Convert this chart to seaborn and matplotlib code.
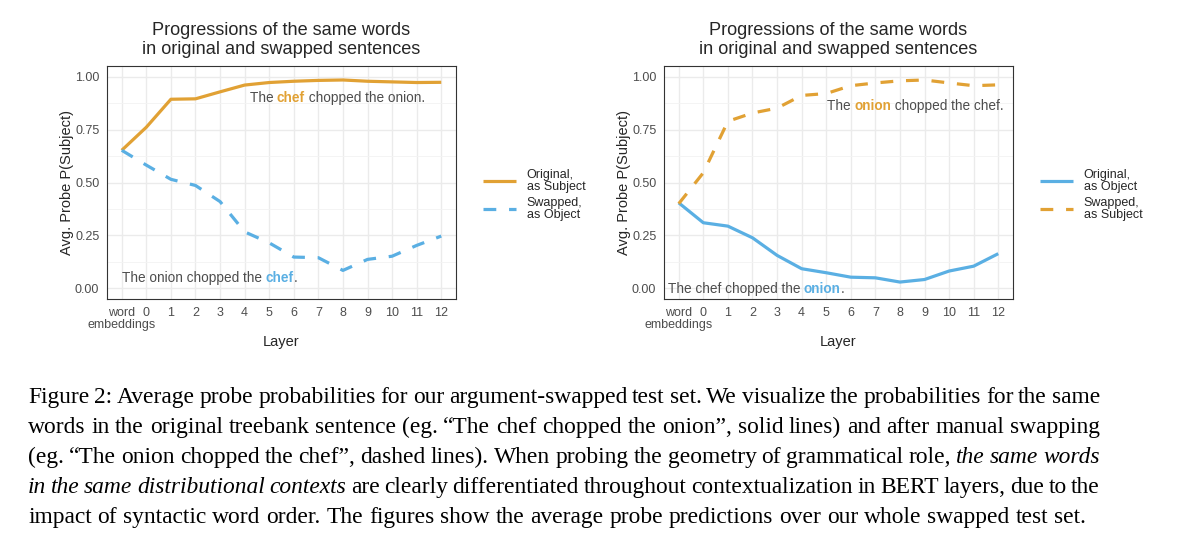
import numpy as np
import pandas as pd
import matplotlib
matplotlib.use("Agg")
import matplotlib.pyplot as plt
from matplotlib.ticker import MultipleLocator
from matplotlib.transforms import offset_copy
import seaborn as sns

# tick labels along the x axis (BERT layers); "word embeddings" is split over two lines
layers = ["word", "0", "1", "2", "3", "4", "5", "6", "7", "8", "9", "10", "11", "12"]
first_label_2nd_line = "embeddings"

# left panel: chef as subject in original, as object after swap
left_original = [0.652, 0.761, 0.893, 0.895, 0.928, 0.960, 0.972, 0.978, 0.982, 0.984, 0.978, 0.975, 0.972, 0.973]
left_swapped = [0.652, 0.582, 0.515, 0.486, 0.410, 0.267, 0.215, 0.148, 0.145, 0.085, 0.137, 0.152, 0.203, 0.247]

# right panel: onion as object in original, as subject after swap
right_original = [0.404, 0.310, 0.294, 0.239, 0.156, 0.093, 0.074, 0.053, 0.050, 0.030, 0.042, 0.082, 0.105, 0.164]
right_swapped = [0.400, 0.546, 0.789, 0.828, 0.851, 0.911, 0.920, 0.957, 0.970, 0.980, 0.984, 0.970, 0.957, 0.961]

ORANGE = "#E1A134"
BLUE = "#5AAFE3"
TXT = "#4D4D4D"
DASH = (0, (4, 4))

sns.set_style("white")
plt.rcParams["font.family"] = ["Liberation Sans", "DejaVu Sans"]

W, H, DPI = 1200, 558, 100
fig = plt.figure(figsize=(W / DPI, H / DPI), dpi=DPI)
renderer = fig.canvas.get_renderer()


def text_width(**kw):
    # width in pixels of a string, spaces included
    s = kw.pop("s")
    t1 = fig.text(0, 0, "|" + s + "|", **kw)
    t2 = fig.text(0, 0, "||", **kw)
    w = t1.get_window_extent(renderer).width - t2.get_window_extent(renderer).width
    t1.remove()
    t2.remove()
    return w


def rich_text(ax, x, y, runs, size=9.8):
    # runs of (text, highlight colour or None) written one after another
    dx = 0
    for s, col in runs:
        kw = dict(fontsize=size, color=col if col else TXT,
                  fontweight="bold" if col else "normal")
        ax.text(x, y, s, va="baseline", ha="left",
                transform=offset_copy(ax.transData, fig=fig, x=dx, y=0, units="dots"), **kw)
        dx += text_width(s=s, **kw)


def panel(ax, orig, swap, orig_col, swap_col, labels, leg_x):
    pos = np.arange(len(layers))
    df = pd.DataFrame({"pos": pos, "orig": orig, "swap": swap})
    sns.lineplot(data=df, x="pos", y="orig", ax=ax, color=orig_col, linewidth=2.3,
                 label=labels[0], solid_capstyle="butt")
    sns.lineplot(data=df, x="pos", y="swap", ax=ax, color=swap_col, linewidth=2.3,
                 label=labels[1], linestyle=DASH)
    ax.set_xlim(-0.6, 13.6)
    ax.set_ylim(-0.05, 1.05)
    ax.set_xticks(pos)
    ax.set_xticklabels(layers)
    ax.text(0, -0.112, first_label_2nd_line, transform=ax.get_xaxis_transform(),
            ha="center", va="center", fontsize=9, color=TXT)
    ax.set_yticks([0, 0.25, 0.5, 0.75, 1.0])
    ax.set_yticklabels(["0.00", "0.25", "0.50", "0.75", "1.00"])
    ax.yaxis.set_minor_locator(MultipleLocator(0.125))
    ax.set_axisbelow(True)
    ax.grid(True, which="major", color="#EBEBEB", linewidth=1.0)
    ax.grid(True, which="minor", axis="y", color="#F3F3F3", linewidth=0.6)
    ax.tick_params(which="major", length=3.5, width=0.8, color="#333333",
                   labelsize=9, labelcolor=TXT, pad=2)
    ax.tick_params(which="minor", length=0)
    for sp in ax.spines.values():
        sp.set_color("#333333")
        sp.set_linewidth(0.8)
    ax.set_xlabel("Layer", fontsize=10.5, labelpad=11.5)
    ax.set_ylabel("Avg. Probe P(Subject)", fontsize=10.5, labelpad=0.5)
    ax.set_title("Progressions of the same words\nin original and swapped sentences",
                 fontsize=13.1, pad=8.5, linespacing=1.2)
    leg = ax.legend(loc="center left", bbox_to_anchor=(leg_x, 1 - 195 / H),
                    bbox_transform=fig.transFigure, frameon=False, fontsize=9,
                    handlelength=2.6, handletextpad=0.9, labelspacing=0.35,
                    borderpad=0, borderaxespad=0)
    for t in leg.get_texts():
        t.set_linespacing(1.0)


ax1 = fig.add_axes([107 / W, 1 - 299 / H, 349 / W, 233 / H])
panel(ax1, left_original, left_swapped, ORANGE, BLUE,
      ["Original,\nas Subject", "Swapped,\nas Object"], 483 / W)
rich_text(ax1, 5.2, 0.882, [("The ", None), ("chef", ORANGE), (" chopped the onion.", None)])
rich_text(ax1, -0.01, 0.030, [("The onion chopped the ", None), ("chef", BLUE), (".", None)])

ax2 = fig.add_axes([664 / W, 1 - 299 / H, 349 / W, 233 / H])
panel(ax2, right_original, right_swapped, BLUE, ORANGE,
      ["Original,\nas Object", "Swapped,\nas Subject"], 1040 / W)
rich_text(ax2, 6.03, 0.843, [("The ", None), ("onion", ORANGE), (" chopped the chef.", None)])
rich_text(ax2, -0.45, -0.022, [("The chef chopped the ", None), ("onion", BLUE), (".", None)])

# caption below the figure, justified like the paper
caption = [
    [("Figure 2: Average probe probabilities for our argument-swapped test set. We visualize the probabilities for the same", "normal")],
    [("words in the original treebank sentence (eg. \u201cThe chef chopped the onion\u201d, solid lines) and after manual swapping", "normal")],
    [("(eg. \u201cThe onion chopped the chef\u201d, dashed lines). When probing the geometry of grammatical role,", "normal"),
     ("the same words", "italic")],
    [("in the same distributional contexts", "italic"),
     ("are clearly differentiated throughout contextualization in BERT layers, due to the", "normal")],
    [("impact of syntactic word order. The figures show the average probe predictions over our whole swapped test set.", "normal")],
]
CAP_FONT = dict(family=["Liberation Serif", "DejaVu Serif"], fontsize=16.9, color="black")
cap_left, cap_right = 28, 1100
space_w = text_width(s=" ", **CAP_FONT)
for i, line in enumerate(caption):
    words = [(w, st) for seg, st in line for w in seg.split()]
    widths = [text_width(s=w, fontstyle=st, **CAP_FONT) for w, st in words]
    gap = space_w
    if i < len(caption) - 1:
        gap = (cap_right - cap_left - sum(widths)) / (len(words) - 1)
    x = cap_left
    y = 403 + 30 * i
    for (w, st), wd in zip(words, widths):
        fig.text(x / W, 1 - y / H, w, ha="left", va="baseline", fontstyle=st, **CAP_FONT)
        x += wd + gap

fig.savefig("out.png", dpi=DPI, facecolor="white")
